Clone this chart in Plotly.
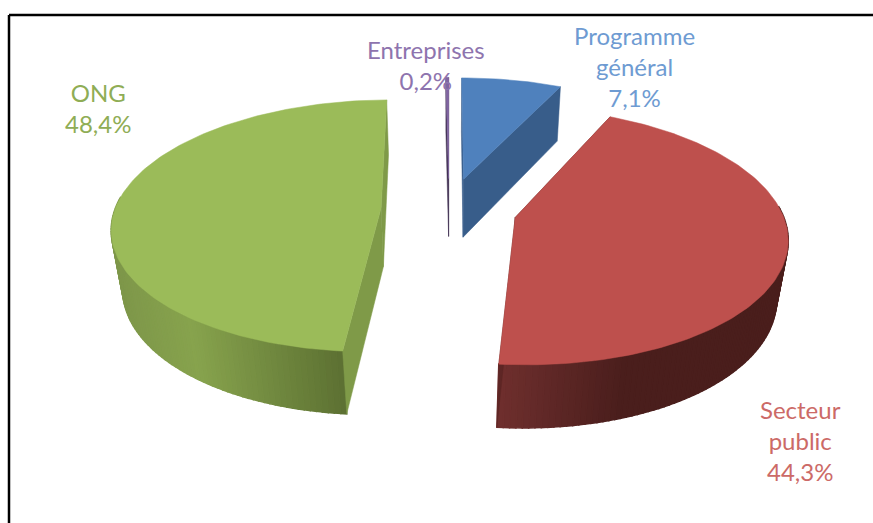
import numpy as np
import plotly.graph_objects as go

categories = ["Programme général", "Secteur public", "ONG", "Entreprises"]
label_lines = [["Programme", "général"], ["Secteur", "public"], ["ONG"], ["Entreprises"]]
values = [7.1, 44.3, 48.4, 0.2]

top_colors = ["#4F81BD", "#BE504D", "#9BBB59", "#8064A2"]
face_colors = ["#385D8A", "#5E2625", "#7F9A48", "#403152"]
text_colors = ["#6E9BD2", "#CC6A67", "#8FAD55", "#8E74AE"]
# outer wall shade by page x: [(x, colour), ...]
wall_shades = [
    [(0, "#385D8A"), (873, "#385D8A")],
    [(497, "#6F2F2E"), (625, "#4A1E1C"), (873, "#4A1E1C")],
    [(115, "#7E974A"), (190, "#87A34D"), (343, "#5C7032")],
    [(0, "#403152"), (873, "#403152")],
]

label_pos = [(634, 68), (800, 442), (98, 110), (426, 67)]

# fake 3d pie params, everything in page pixels
cx, cy = 449, 209
R = 266
pull = 68
tilt = 0.465
persp = 0.143
depth = 61


def project(wx, wy, z=0.0):
    # wy > 0 is toward the viewer, z is how far down the side wall
    s = 1 / (1 - persp * wy / R + 0.15 * z / R)
    return cx + wx * s, cy + (tilt * wy + z) * s


def shade(stops, x):
    xs = [p[0] for p in stops]
    rgb = [[int(p[1][i:i + 2], 16) for p in stops] for i in (1, 3, 5)]
    return "rgb(%d,%d,%d)" % tuple(round(np.interp(x, xs, c)) for c in rgb)


def poly(fig, xs, ys, color, lw=0.5):
    fig.add_trace(go.Scatter(x=xs, y=ys, mode="lines", fill="toself", fillcolor=color,
                             line=dict(color=color, width=lw), hoverinfo="skip", showlegend=False))


fig = go.Figure()

start = 0.0
total = sum(values)
for i, v in enumerate(values):
    a0 = start
    a1 = start + v / total * 2 * np.pi
    start = a1
    mid = (a0 + a1) / 2
    ox, oy = pull * np.sin(mid), -pull * np.cos(mid)

    ang = np.linspace(a0, a1, max(int(v * 3), 2) + 1)
    wx = ox + R * np.sin(ang)
    wy = oy - R * np.cos(ang)

    # outer wall, small strips for the gradient. back half is hidden by the top anyway
    for j in range(len(ang) - 1):
        if -np.cos((ang[j] + ang[j + 1]) / 2) < -0.1:
            continue
        x0, y0 = project(wx[j], wy[j])
        x1, y1 = project(wx[j + 1], wy[j + 1])
        x2, y2 = project(wx[j + 1], wy[j + 1], depth)
        x3, y3 = project(wx[j], wy[j], depth)
        poly(fig, [x0, x1, x2, x3, x0], [y0, y1, y2, y3, y0],
             shade(wall_shades[i], (x0 + x1) / 2), lw=1.5)

    # the two cut faces
    for k in (0, -1):
        pts = [project(ox, oy), project(wx[k], wy[k]), project(wx[k], wy[k], depth), project(ox, oy, depth)]
        pts.append(pts[0])
        poly(fig, [p[0] for p in pts], [p[1] for p in pts], face_colors[i])

    # top of the slice
    tx, ty = project(np.r_[ox, wx, ox], np.r_[oy, wy, oy])
    poly(fig, tx, ty, top_colors[i])

for i, v in enumerate(values):
    pct = ("%.1f%%" % v).replace(".", ",")
    fig.add_annotation(x=label_pos[i][0], y=label_pos[i][1] - 2, text="<br>".join(label_lines[i] + [pct]),
                       showarrow=False, font=dict(family="Lato", size=24, color=text_colors[i]))

fig.add_shape(type="line", x0=9, x1=873, y0=15, y1=15, line=dict(color="black", width=2.5))
fig.add_shape(type="line", x0=9, x1=9, y0=15, y1=523, line=dict(color="black", width=2.5))

fig.update_xaxes(range=[0, 873], visible=False, fixedrange=True)
fig.update_yaxes(range=[523, 0], visible=False, fixedrange=True)
fig.update_layout(width=873, height=523, margin=dict(l=0, r=0, t=0, b=0),
                  paper_bgcolor="white", plot_bgcolor="white", showlegend=False)

fig.write_html("out.html", config={"displayModeBar": False}, post_script="document.body.style.margin='0';")
